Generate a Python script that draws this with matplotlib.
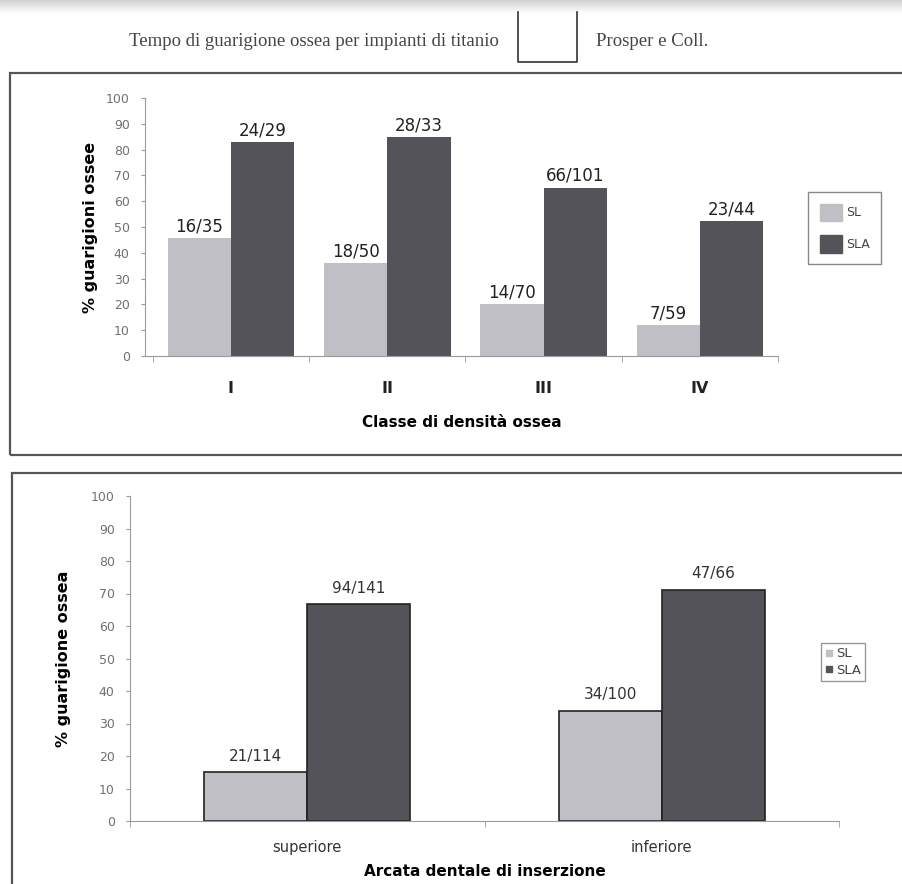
import numpy as np
import matplotlib.pyplot as plt
from matplotlib.patches import Rectangle, Patch
from matplotlib.lines import Line2D

plt.rcParams['font.family'] = ['DejaVu Sans']

# --- data ---
dens_classes = ["I", "II", "III", "IV"]
dens_sl = [45.7, 36.0, 20.0, 11.9]
dens_sla = [82.8, 84.8, 65.3, 52.3]
dens_sl_lbl = ["16/35", "18/50", "14/70", "7/59"]
dens_sla_lbl = ["24/29", "28/33", "66/101", "23/44"]

arch = ["superiore", "inferiore"]
arch_sl = [15.0, 34.0]
arch_sla = [66.7, 71.2]
arch_sl_lbl = ["21/114", "34/100"]
arch_sla_lbl = ["94/141", "47/66"]

yticks = list(range(0, 101, 10))

c_sl = "#c0bfc5"
c_sla = "#55535a"
gray = "#707070"

W, H = 902, 884
fig = plt.figure(figsize=(W / 100, H / 100), dpi=100)


def fx(px):
    return px / W


def fy(py):
    return 1 - py / H


# top shading of the scanned page
bg = fig.add_axes([0, fy(14), 1, 14 / H])
bg.imshow(np.linspace(0.82, 1.0, 30).reshape(-1, 1), cmap="gray", vmin=0, vmax=1,
          aspect="auto", extent=[0, 1, 0, 1])
bg.axis("off")

# header
hdr_font = ["Liberation Serif"]
fig.text(fx(314), fy(42), "Tempo di guarigione ossea per impianti di titanio",
         ha="center", va="center", fontsize=13.5, color="#444444", family=hdr_font)
fig.text(fx(596), fy(42), "Prosper e Coll.", ha="left", va="center",
         fontsize=13.5, color="#444444", family=hdr_font)
fig.add_artist(Line2D([fx(518), fx(518), fx(577), fx(577)],
                      [fy(12), fy(62), fy(62), fy(12)], color="#333333", lw=1.2))

# panel frames
fig.add_artist(Rectangle((fx(10), fy(455)), fx(900), (455 - 73) / H, fill=False,
                         ec="#555555", lw=1.6))
fig.add_artist(Rectangle((fx(12), fy(900)), fx(900), (900 - 473) / H, fill=False,
                         ec="#555555", lw=1.6))


def style_axes(ax, nx):
    ax.set_ylim(0, 100)
    ax.set_yticks(yticks)
    for s in ["top", "right"]:
        ax.spines[s].set_visible(False)
    for s in ["left", "bottom"]:
        ax.spines[s].set_color("#9a9a9a")
        ax.spines[s].set_linewidth(0.8)
    ax.tick_params(axis="y", length=3, color="#9a9a9a", labelsize=9,
                   labelcolor=gray, pad=8)
    ax.tick_params(axis="x", which="major", length=0)
    ax.set_xticks(np.arange(nx + 1) - 0.5, minor=True)
    ax.tick_params(axis="x", which="minor", length=4, color="#9a9a9a")


# --- top chart ---
ax1 = fig.add_axes([fx(145), fy(356), fx(778 - 145), (356 - 98) / H])
x1 = np.arange(len(dens_classes))
w1 = 0.405
b1 = ax1.bar(x1 - w1 / 2, dens_sl, w1, color=c_sl, label="SL")
b2 = ax1.bar(x1 + w1 / 2, dens_sla, w1, color=c_sla, label="SLA")
ax1.bar_label(b1, labels=dens_sl_lbl, padding=2, fontsize=12, color="#222222")
ax1.bar_label(b2, labels=dens_sla_lbl, padding=2, fontsize=12, color="#222222")
ax1.set_xlim(-0.55, 3.5)
style_axes(ax1, len(dens_classes))
ax1.set_xticks(x1)
ax1.set_xticklabels(dens_classes, fontsize=11.5, fontweight="bold", color="#222222")
ax1.tick_params(axis="x", pad=18)
ax1.set_ylabel("% guarigioni ossee", fontsize=11.5, fontweight="bold", labelpad=6)
ax1.set_xlabel("Classe di densità ossea", fontsize=11, fontweight="bold", labelpad=14)
leg1 = fig.legend(handles=[Patch(color=c_sl, label="SL"), Patch(color=c_sla, label="SLA")],
                  loc="upper left", bbox_to_anchor=(fx(802), fy(186)),
                  fontsize=9, handlelength=1.8, handleheight=1.8, labelspacing=1.1,
                  handletextpad=0.3, borderpad=0.9, fancybox=False, framealpha=1)
leg1.get_frame().set_edgecolor("#888888")
for t in leg1.get_texts():
    t.set_color("#444444")

# --- bottom chart ---
ax2 = fig.add_axes([fx(130), fy(821), fx(839 - 130), (821 - 496) / H])
x2 = np.arange(len(arch))
w2 = 0.29
b3 = ax2.bar(x2 - w2 / 2, arch_sl, w2, color=c_sl, edgecolor="#222222", lw=1.2, label="SL")
b4 = ax2.bar(x2 + w2 / 2, arch_sla, w2, color=c_sla, edgecolor="#222222", lw=1.2, label="SLA")
ax2.bar_label(b3, labels=arch_sl_lbl, padding=6, fontsize=11, color="#333333")
ax2.bar_label(b4, labels=arch_sla_lbl, padding=6, fontsize=11, color="#333333")
ax2.set_xlim(-0.5, 1.5)
style_axes(ax2, len(arch))
ax2.set_xticks(x2)
ax2.set_xticklabels(arch, fontsize=10.5, color="#333333")
ax2.tick_params(axis="x", pad=14)
ax2.set_ylabel("% guarigione ossea", fontsize=11.5, fontweight="bold", labelpad=14)
ax2.set_xlabel("Arcata dentale di inserzione", fontsize=11, fontweight="bold", labelpad=6)
leg2 = fig.legend(handles=[Line2D([], [], marker="s", ls="", color=c_sl, ms=4, label="SL"),
                           Line2D([], [], marker="s", ls="", color=c_sla, ms=4, label="SLA")],
                  loc="upper left", bbox_to_anchor=(fx(814), fy(636)),
                  fontsize=9.5, handlelength=0.6, handletextpad=0.2, labelspacing=0.25,
                  borderpad=0.35, fancybox=False, framealpha=1)
leg2.get_frame().set_edgecolor("#999999")
for t in leg2.get_texts():
    t.set_color("#444444")

fig.savefig("out.png", dpi=100)
